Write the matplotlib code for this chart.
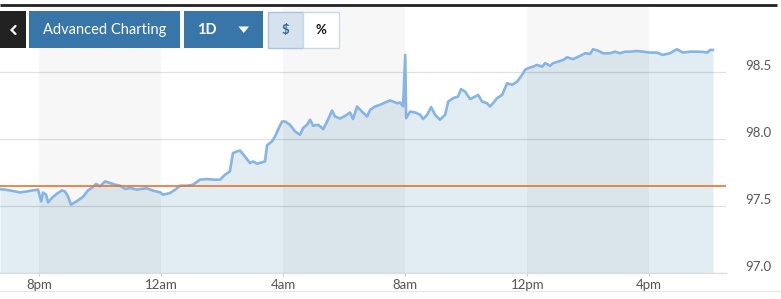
import matplotlib
matplotlib.use("Agg")
import matplotlib.pyplot as plt
from matplotlib.patches import Rectangle, Polygon

plt.rcParams["font.family"] = ["Lato", "DejaVu Sans"]

# intraday price, hours counted from midnight of the first day (20 = 8pm)
hours = [18.71, 19.04, 19.20, 19.37, 19.60, 19.79, 19.96, 20.06, 20.12, 20.22,
         20.29, 20.42, 20.58, 20.74, 20.84, 20.94, 21.04, 21.14, 21.27, 21.43,
         21.60, 21.76, 21.86, 21.99, 22.16, 22.32, 22.49, 22.65, 22.82, 22.98,
         23.21, 23.30, 23.53, 23.73, 23.96, 24.06, 24.19, 24.29, 24.45, 24.62,
         24.85, 25.04, 25.27, 25.50, 25.70, 25.93, 26.09, 26.25, 26.35, 26.48,
         26.58, 26.74, 26.91, 27.01, 27.14, 27.30, 27.40, 27.47, 27.63, 27.73,
         27.83, 27.96, 28.06, 28.22, 28.39, 28.55, 28.65, 28.78, 28.88, 28.98,
         29.15, 29.31, 29.44, 29.60, 29.70, 29.86, 30.03, 30.19, 30.29, 30.42,
         30.58, 30.75, 30.85, 31.01, 31.17, 31.34, 31.50, 31.60, 31.73, 31.83,
         31.93, 32.00, 32.03, 32.16, 32.33, 32.49, 32.59, 32.72, 32.85, 32.98,
         33.14, 33.31, 33.41, 33.57, 33.73, 33.83, 33.96, 34.13, 34.29, 34.39,
         34.52, 34.68, 34.78, 34.88, 35.01, 35.18, 35.34, 35.51, 35.67, 35.83,
         35.93, 36.03, 36.19, 36.32, 36.49, 36.59, 36.75, 36.85, 37.01, 37.18,
         37.31, 37.50, 37.73, 37.90, 38.06, 38.16, 38.32, 38.49, 38.72, 38.88,
         39.04, 39.21, 39.37, 39.60, 39.80, 40.03, 40.26, 40.45, 40.68, 40.91,
         41.11, 41.34, 41.57, 41.77, 41.90, 42.00, 42.09]
prices = [97.628, 97.618, 97.610, 97.603, 97.610, 97.618, 97.623, 97.536, 97.601, 97.586,
          97.528, 97.563, 97.593, 97.618, 97.610, 97.573, 97.511, 97.524, 97.543, 97.569,
          97.618, 97.643, 97.666, 97.648, 97.685, 97.673, 97.660, 97.653, 97.628, 97.636,
          97.623, 97.628, 97.633, 97.616, 97.603, 97.586, 97.593, 97.598, 97.623, 97.653,
          97.653, 97.660, 97.698, 97.703, 97.698, 97.698, 97.735, 97.760, 97.897, 97.909,
          97.916, 97.872, 97.822, 97.834, 97.817, 97.827, 97.834, 97.955, 97.984, 98.021,
          98.071, 98.133, 98.133, 98.108, 98.058, 98.034, 98.084, 98.108, 98.146, 98.101,
          98.108, 98.076, 98.133, 98.215, 98.170, 98.155, 98.175, 98.200, 98.151, 98.245,
          98.207, 98.170, 98.220, 98.245, 98.257, 98.275, 98.290, 98.282, 98.270, 98.275,
          98.245, 98.631, 98.158, 98.207, 98.200, 98.183, 98.151, 98.183, 98.240, 98.183,
          98.146, 98.183, 98.282, 98.307, 98.319, 98.375, 98.357, 98.300, 98.319, 98.332,
          98.282, 98.270, 98.245, 98.270, 98.307, 98.332, 98.419, 98.407, 98.431, 98.481,
          98.519, 98.531, 98.543, 98.556, 98.543, 98.569, 98.549, 98.569, 98.581, 98.593,
          98.613, 98.599, 98.623, 98.643, 98.638, 98.673, 98.663, 98.643, 98.643, 98.655,
          98.643, 98.655, 98.655, 98.660, 98.655, 98.648, 98.648, 98.631, 98.643, 98.673,
          98.648, 98.655, 98.655, 98.653, 98.648, 98.668, 98.668]
prev_close = 97.648

tick_hours = [20, 24, 28, 32, 36, 40]
tick_labels = ["8pm", "12am", "4am", "8am", "12pm", "4pm"]
shaded = [(20, 24), (28, 32), (36, 40)]
y_ticks = [97.0, 97.5, 98.0, 98.5]

W, H = 781, 299
fig = plt.figure(figsize=(W / 100, H / 100), dpi=100)
fig.patch.set_facecolor("white")

# plot area in pixels: x 0..726, y 7..273
ax = fig.add_axes([0, (H - 273) / H, 726 / W, (273 - 7) / H])
ax.set_xlim(18.711, 42.52)
ax.set_ylim(97.0, 98.989)

base = ax.get_ylim()[0]
ax.fill_between(hours, prices, base, color="#e2ecf3", lw=0, zorder=1)
for a, b in shaded:
    ax.axvspan(a, b, color="black", alpha=0.03, lw=0, zorder=1.5)
for v in y_ticks:
    ax.axhline(v, color="black", alpha=0.12, lw=0.9, zorder=2)
ax.axhline(prev_close, color="#e8742e", lw=1.2, zorder=4)
ax.plot(hours, prices, color="#85b5e4", lw=1.9, zorder=3,
        solid_joinstyle="round")

for sp in ["top", "left", "right"]:
    ax.spines[sp].set_visible(False)
ax.spines["bottom"].set_color("#dddddd")
ax.spines["bottom"].set_linewidth(0.9)
ax.set_facecolor("none")

ax.set_xticks(tick_hours)
ax.set_xticklabels(tick_labels)
ax.tick_params(axis="x", length=2.5, width=0.8, color="#cccccc",
               labelcolor="#555555", labelsize=9.5, pad=1.5)
ax.set_yticks(y_ticks)
ax.set_yticklabels([f"{v:.1f}" for v in y_ticks])
ax.tick_params(axis="y", length=0, labelleft=False, labelright=True,
               labelcolor="#555555", labelsize=9.5, pad=13.5)
for lbl in ax.get_yticklabels():
    lbl.set_verticalalignment("bottom")

# page chrome drawn in pixel space
ui = fig.add_axes([0, 0, 1, 1], zorder=5)
ui.set_xlim(0, W)
ui.set_ylim(H, 0)
ui.axis("off")
ui.patch.set_alpha(0)

ui.plot([0, 777], [5, 5], color="#222222", lw=2.0, solid_capstyle="butt")
ui.plot([0, W], [291, 291], color="#e8e8e8", lw=0.8)

ui.add_patch(Rectangle((0, 11), 26, 37, color="#222222", lw=0))
ui.plot([15.5, 11.5, 15.5], [26, 30, 34], color="white", lw=1.6,
        solid_capstyle="round", solid_joinstyle="miter")

blue = "#3875a8"
ui.add_patch(Rectangle((29, 11), 151, 37, color=blue, lw=0))
ui.text(104.5, 30, "Advanced Charting", color="white", fontsize=10.5,
        ha="center", va="center")

ui.add_patch(Rectangle((184, 11), 79, 37, color=blue, lw=0))
ui.text(197, 30, "1D", color="white", fontsize=10.5, fontweight="bold",
        ha="left", va="center")
ui.add_patch(Polygon([(238.5, 26.5), (249, 26.5), (243.75, 33)],
                     closed=True, color="white", lw=0))

ui.add_patch(Rectangle((267.5, 11.5), 35.5, 36, facecolor="#d6e3ee",
                       edgecolor="#aac3da", lw=1.0))
ui.add_patch(Rectangle((303, 11.5), 36, 36, facecolor="white",
                       edgecolor="#c9d9e8", lw=1.0))
ui.text(285.2, 30, "$", color="#2f6a9c", fontsize=9.5, fontweight="bold",
        ha="center", va="center")
ui.text(321, 30, "%", color="#111111", fontsize=9.5, fontweight="bold",
        ha="center", va="center")

fig.savefig("out.png", dpi=100)
